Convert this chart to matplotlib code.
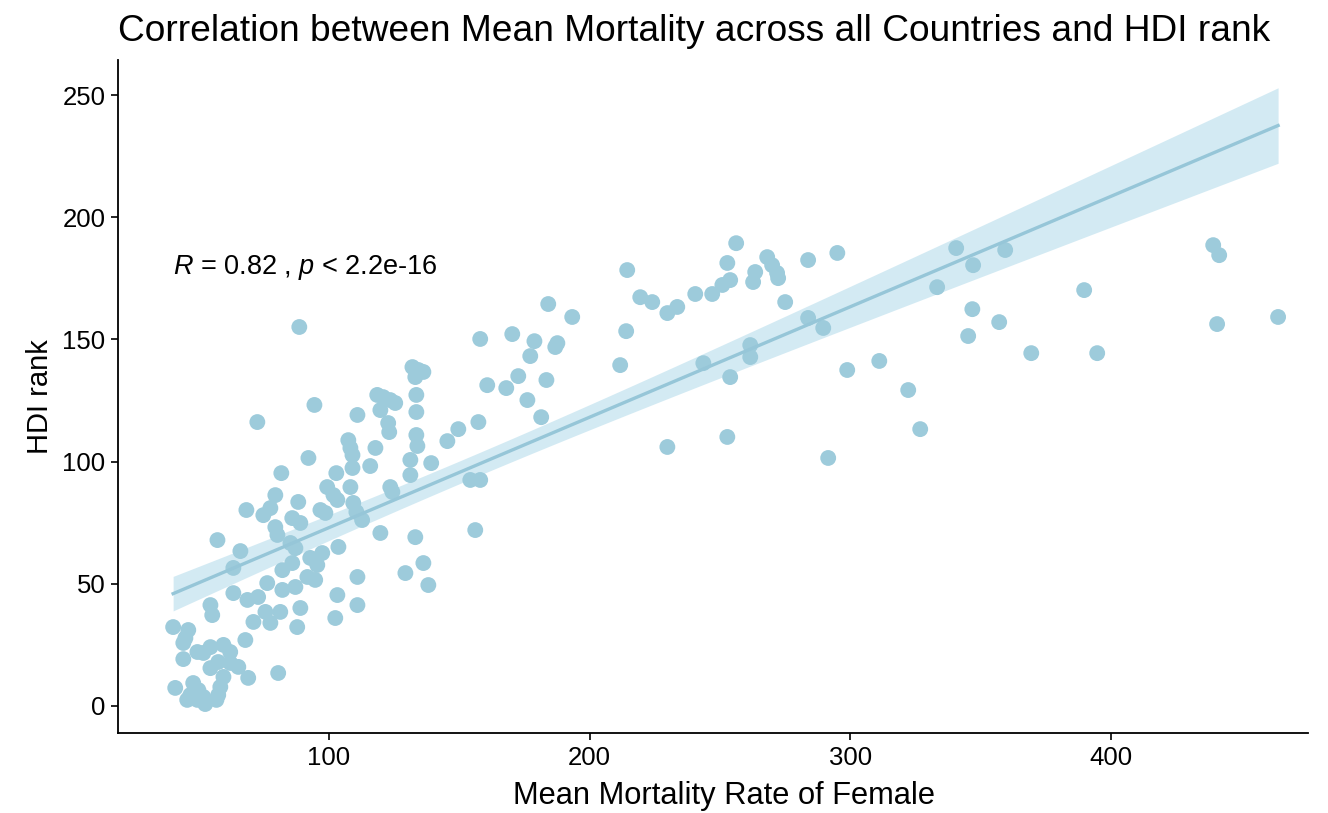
import numpy as np
import matplotlib
matplotlib.use("Agg")
import matplotlib.pyplot as plt

# Mean mortality rate of female (x) and HDI rank (y)
mortality = [40.2, 41.0, 44.1, 44.1, 44.9, 46.0, 45.6, 46.8, 47.9, 49.9,
             49.5, 51.8, 52.5, 49.5, 51.8, 54.5, 54.5, 55.2, 54.5, 57.5,
             59.5, 62.1, 57.2, 57.5, 56.8, 58.3, 59.5, 62.1, 65.2, 63.3,
             66.0, 63.3, 68.7, 72.8, 67.9, 69.0, 71.0, 75.6, 77.5, 81.3,
             80.5, 76.3, 82.1, 87.1, 89.0, 87.8, 102.4, 103.2, 68.3, 72.5,
             74.8, 77.5, 79.4, 81.7, 79.4, 80.2, 85.9, 89.0, 88.2, 88.6,
             85.2, 87.1, 82.1, 85.9, 92.8, 95.5, 97.4, 91.7, 94.7, 103.6,
             92.1, 94.4, 96.7, 98.6, 99.3, 101.7, 103.2, 102.8, 107.4, 108.2,
             109.0, 109.0, 108.2, 109.3, 110.5, 112.7, 110.9, 110.9, 110.9, 115.8,
             117.8, 119.7, 118.5, 120.8, 123.5, 125.4, 119.7, 122.7, 123.1, 123.5,
             124.3, 129.3, 131.2, 131.2, 132.0, 134.3, 136.2, 133.1, 133.5, 133.5,
             133.5, 133.9, 133.1, 136.2, 138.1, 139.2, 145.4, 149.6, 157.3, 154.2,
             158.0, 156.1, 158.0, 160.7, 168.0, 170.3, 172.6, 178.8, 177.2, 186.8,
             187.6, 183.4, 176.1, 181.4, 184.1, 193.3, 211.7, 214.0, 214.4, 219.4,
             224.0, 229.8, 233.6, 229.8, 240.5, 243.6, 247.0, 250.9, 253.9, 252.8,
             253.9, 252.8, 256.2, 263.5, 262.7, 261.6, 261.6, 268.1, 270.0, 271.9,
             272.3, 275.0, 283.8, 283.8, 289.6, 295.0, 298.8, 291.5, 311.1, 322.2,
             326.8, 333.3, 340.6, 347.1, 346.8, 345.2, 357.1, 359.4, 369.4, 389.7,
             394.7, 439.2, 441.5, 440.7, 464.1]
hdi_rank = [32.3, 7.4, 19.2, 25.8, 27.8, 31.1, 2.5, 4.5, 9.4, 6.5,
            2.5, 3.7, 0.8, 22.1, 21.7, 24.1, 41.3, 37.2, 15.5, 18.0,
            25.0, 22.1, 67.9, 4.5, 2.5, 7.8, 11.9, 17.6, 16.0, 56.5,
            63.4, 46.2, 43.4, 44.6, 27.0, 11.5, 34.4, 38.5, 34.0, 38.5,
            13.5, 50.3, 47.5, 48.7, 40.1, 32.3, 36.0, 45.4, 80.2, 116.2,
            78.1, 81.0, 86.3, 95.3, 73.2, 70.0, 76.9, 74.9, 83.5, 155.1,
            66.7, 64.6, 55.6, 58.5, 60.6, 57.7, 62.6, 52.8, 51.6, 65.1,
            101.5, 123.2, 80.2, 79.0, 89.6, 86.3, 84.3, 95.3, 108.8, 105.6,
            102.7, 97.4, 89.6, 83.1, 79.4, 76.1, 52.8, 41.3, 119.1, 98.2,
            105.6, 70.8, 127.3, 126.4, 125.2, 124.0, 121.1, 115.8, 112.1, 89.6,
            87.6, 54.4, 100.7, 94.5, 138.7, 137.5, 136.7, 134.6, 127.3, 120.3,
            110.9, 106.4, 69.1, 58.5, 49.5, 99.4, 108.4, 113.3, 116.2, 92.5,
            92.5, 72.0, 150.2, 131.3, 130.1, 152.2, 135.0, 149.3, 143.2, 146.9,
            148.5, 133.4, 125.2, 118.2, 164.5, 159.2, 139.5, 153.4, 178.4, 167.3,
            165.3, 160.8, 163.3, 106.0, 168.6, 140.3, 168.6, 172.3, 174.3, 181.3,
            134.6, 110.1, 189.4, 177.6, 173.5, 147.7, 142.8, 183.7, 180.4, 177.2,
            175.1, 165.3, 182.5, 158.8, 154.7, 185.4, 137.5, 101.5, 141.2, 129.3,
            113.3, 171.4, 187.4, 180.4, 162.4, 151.4, 157.1, 186.6, 144.4, 170.2,
            144.4, 188.6, 184.5, 156.3, 159.2]

x_ticks = [100, 200, 300, 400]
y_ticks = [0, 50, 100, 150, 200, 250]
title = "Correlation between Mean Mortality across all Countries and HDI rank"
x_label = "Mean Mortality Rate of Female"
y_label = "HDI rank"
annotation = r"$\mathit{R}$ = 0.82 , $\mathit{p}$ < 2.2e-16"

plt.rcParams['font.family'] = ['Liberation Sans', 'DejaVu Sans']
plt.rcParams['mathtext.fontset'] = 'custom'
plt.rcParams['mathtext.rm'] = 'Liberation Sans'
plt.rcParams['mathtext.it'] = 'Liberation Sans:italic'

x = np.array(mortality)
y = np.array(hdi_rank)

fig = plt.figure(figsize=(13.28, 8.13), dpi=100)
ax = fig.add_axes([0.0889, 0.0984, 0.985 - 0.0889, 0.926 - 0.0984])

point_color = "#9DCBDB"
ax.scatter(x, y, s=130, color=point_color, edgecolors="none", zorder=3)

# linear fit with 95% confidence band
n = len(x)
b1, b0 = np.polyfit(x, y, 1)
xs = np.linspace(x.min(), x.max(), 200)
yfit = b0 + b1 * xs
resid = y - (b0 + b1 * x)
s_err = np.sqrt(np.sum(resid ** 2) / (n - 2))
sxx = np.sum((x - x.mean()) ** 2)
ci = 1.973 * s_err * np.sqrt(1.0 / n + (xs - x.mean()) ** 2 / sxx)
ax.fill_between(xs, yfit - ci, yfit + ci, color="#A8D6E8", alpha=0.5,
                linewidth=0, zorder=2)
ax.plot(xs, yfit, color="#96C6D8", linewidth=2.4, zorder=4)

ax.text(40, 179.6, annotation, fontsize=19.5, va="center", ha="left",
        color="black")

ax.set_xlim(19.07, 475.6)
ax.set_ylim(-11.05, 264.3)
ax.set_xticks(x_ticks)
ax.set_yticks(y_ticks)
for side in ["top", "right"]:
    ax.spines[side].set_visible(False)
for side in ["left", "bottom"]:
    ax.spines[side].set_linewidth(1.3)
    ax.spines[side].set_color("black")
ax.tick_params(axis="both", direction="out", length=5, width=1.2,
               labelsize=18.5, colors="black", pad=4)
ax.set_xlabel(x_label, fontsize=22.2)
ax.xaxis.set_label_coords(0.509, -0.072)
ax.set_ylabel(y_label, fontsize=21, labelpad=6)
fig.suptitle(title, fontsize=26.7, x=0.0889, ha="left", y=0.983, va="top")

fig.savefig("out.png", dpi=100)
